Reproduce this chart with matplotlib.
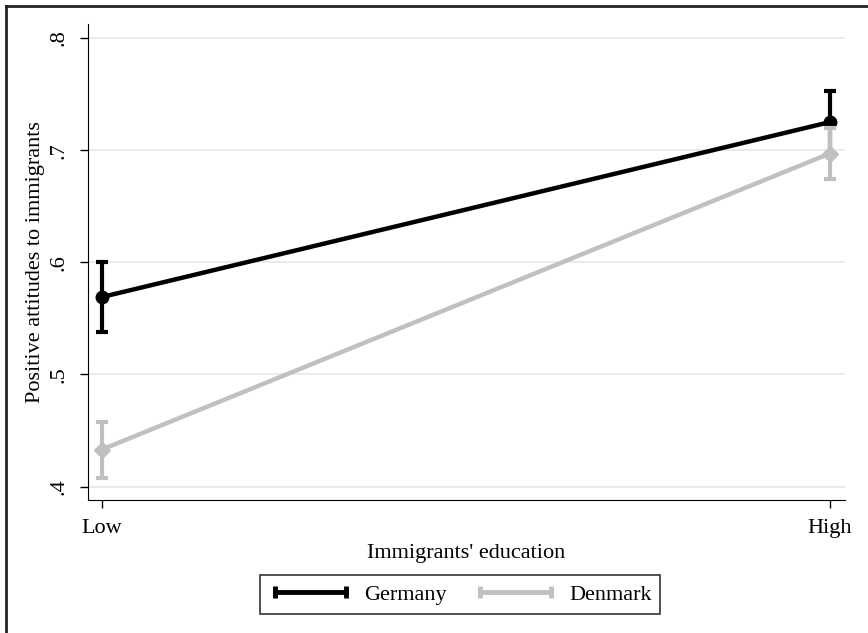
# Predicted attitudes by immigrant education, Germany vs Denmark

import matplotlib.pyplot as plt
from matplotlib.lines import Line2D
import numpy as np

education = ['Low', 'High']
germany_mean = [0.569, 0.725]
germany_lo = [0.538, 0.697]
germany_hi = [0.600, 0.753]
denmark_mean = [0.433, 0.697]
denmark_lo = [0.408, 0.674]
denmark_hi = [0.458, 0.720]
yticks = [0.4, 0.5, 0.6, 0.7, 0.8]
yticklabels = ['.4', '.5', '.6', '.7', '.8']

plt.rcParams['font.family'] = ['Liberation Serif', 'DejaVu Serif']

fig = plt.figure(figsize=(8.68, 6.33), dpi=100)
ax = fig.add_axes([0.1014, 0.2101, 0.8721, 0.752])

x = np.arange(len(education))
gcol = '#000000'
dcol = '#c0c0c0'


def draw(mean, lo, hi, color, marker, ms, z):
    mean = np.array(mean)
    err = [mean - np.array(lo), np.array(hi) - mean]
    ax.errorbar(x, mean, yerr=err, color=color, lw=3.2, marker=marker, ms=ms,
                elinewidth=3, capsize=4.5, capthick=3, zorder=z)


draw(germany_mean, germany_lo, germany_hi, gcol, 'o', 9, 3)
draw(denmark_mean, denmark_lo, denmark_hi, dcol, 'D', 8, 4)

ax.set_xlim(-0.019, 1.021)
ax.set_ylim(0.388, 0.8125)
ax.set_xticks(x)
ax.set_xticklabels(education, fontsize=16)
ax.set_yticks(yticks)
ax.set_yticklabels(yticklabels, fontsize=16, rotation=90, va='center')
ax.yaxis.grid(True, color='#e6e6e6', lw=1.2)
ax.set_axisbelow(True)
ax.spines['top'].set_visible(False)
ax.spines['right'].set_visible(False)
ax.tick_params(length=6, width=1, pad=8)
ax.set_xlabel("Immigrants' education", fontsize=16, labelpad=4)
ax.set_ylabel('Positive attitudes to immigrants', fontsize=16, labelpad=3)

# legend: line with end caps, like the errorbar style
handles = [Line2D([], [], color=gcol, lw=3.5, marker='|', ms=9, mew=3.5),
           Line2D([], [], color=dcol, lw=3.5, marker='|', ms=9, mew=3.5)]
leg = fig.legend(handles, ['Germany', 'Denmark'], ncol=2, numpoints=2,
                 loc='center', bbox_to_anchor=(460 / 868, 1 - 594.5 / 633),
                 fontsize=16, frameon=True, fancybox=False, handlelength=3.8,
                 handletextpad=0.5, columnspacing=1.2, borderpad=0.4)
leg.get_frame().set_edgecolor('black')
leg.get_frame().set_linewidth(1.2)

# outer frame (top and left edges visible)
fig.add_artist(Line2D([6 / 868, 1], [1 - 6 / 633, 1 - 6 / 633], color='#222222', lw=2))
fig.add_artist(Line2D([6 / 868, 6 / 868], [0, 1 - 6 / 633], color='#222222', lw=2))

fig.savefig('out.png', dpi=100)
